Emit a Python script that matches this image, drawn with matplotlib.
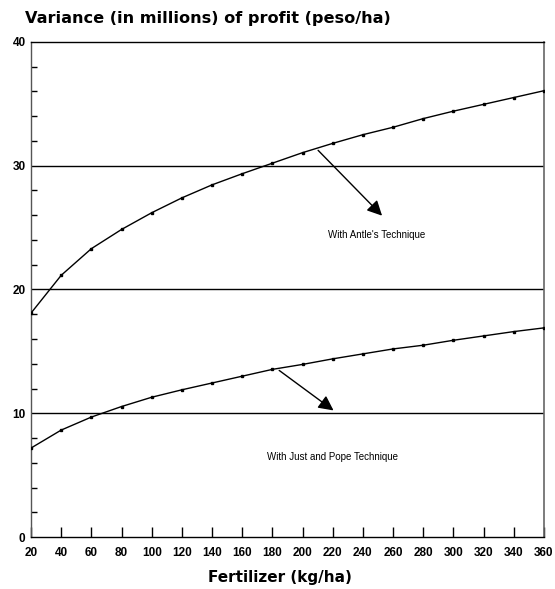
import matplotlib.pyplot as plt
from matplotlib.ticker import MultipleLocator

plt.rcParams['font.family'] = ['Liberation Sans', 'DejaVu Sans']

fertilizer = [20, 40, 60, 80, 100, 120, 140, 160, 180, 200,
              220, 240, 260, 280, 300, 320, 340, 360]
antle = [18.1, 21.15, 23.3, 24.85, 26.2, 27.4, 28.45, 29.35, 30.2, 31.05,
         31.8, 32.5, 33.1, 33.8, 34.4, 34.95, 35.5, 36.05]
just_pope = [7.2, 8.65, 9.7, 10.55, 11.3, 11.9, 12.45, 13.0, 13.55, 13.95,
             14.4, 14.8, 15.2, 15.5, 15.9, 16.25, 16.6, 16.9]
x_ticks = list(range(20, 361, 20))
y_ticks = [0, 10, 20, 30, 40]

fig = plt.figure(figsize=(5.55, 5.89), dpi=100)
ax = fig.add_axes([0.056, 0.088, 0.924, 0.841])

# Horizontal reference lines
for yv in [10, 20, 30]:
    ax.axhline(yv, color='black', lw=1.0, zorder=1)

ax.plot(fertilizer, antle, '-s', color='black', lw=1.0, markersize=1.8, zorder=3)
ax.plot(fertilizer, just_pope, '-s', color='black', lw=1.0, markersize=1.8, zorder=3)

ax.set_xlim(20, 360)
ax.set_ylim(0, 40)
ax.set_xticks(x_ticks)
ax.set_yticks(y_ticks)
ax.yaxis.set_minor_locator(MultipleLocator(2))
ax.tick_params(axis='x', direction='in', length=7, width=1, labelsize=8.5, pad=7)
ax.tick_params(axis='y', which='major', direction='in', length=0, labelsize=8.5, pad=4)
ax.tick_params(axis='y', which='minor', direction='in', length=4, width=1)
for lab in ax.get_xticklabels() + ax.get_yticklabels():
    lab.set_fontweight('bold')

for side in ['left', 'bottom', 'top']:
    ax.spines[side].set_linewidth(1.0)
ax.spines['left'].set_color('#555555')
ax.spines['right'].set_color('#666666')
ax.spines['right'].set_linewidth(1.2)

arrow = dict(arrowstyle='-|>,head_length=0.9,head_width=0.45', color='black', lw=1.0)
ax.annotate('', xy=(254, 25.8), xytext=(209, 31.4), arrowprops=arrow, zorder=4)
ax.text(249, 24.4, "With Antle's Technique", fontsize=7, ha='center', va='center')
ax.annotate('', xy=(222, 10.1), xytext=(183, 13.6), arrowprops=arrow, zorder=4)
ax.text(220, 6.5, 'With Just and Pope Technique', fontsize=7, ha='center', va='center')

fig.text(0.045, 0.968, 'Variance (in millions) of profit (peso/ha)',
         fontsize=11.6, fontweight='bold', ha='left', va='center', family='DejaVu Sans')
fig.text(0.505, 0.019, 'Fertilizer (kg/ha)', fontsize=11, fontweight='bold',
         ha='center', va='center', family='DejaVu Sans')

fig.savefig('out.png', dpi=100)
